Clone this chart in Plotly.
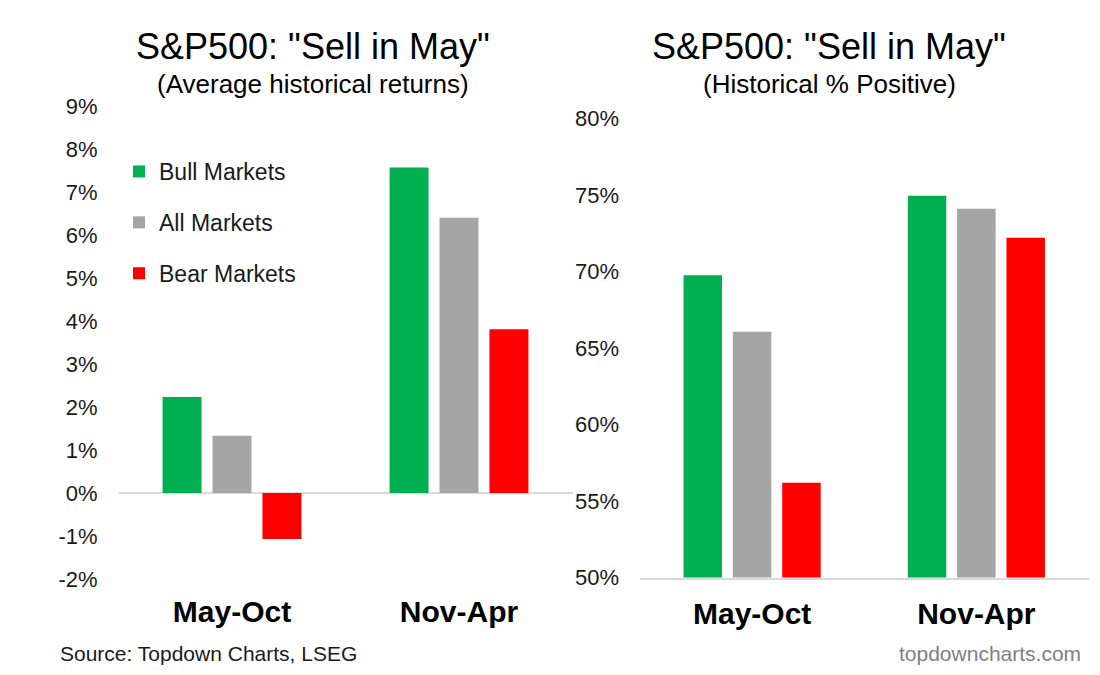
import plotly.graph_objects as go

# periods
categories = ["May-Oct", "Nov-Apr"]

# average historical returns (%)
avg_bull = [2.23, 7.57]
avg_all = [1.33, 6.40]
avg_bear = [-1.07, 3.81]

# historical % positive
pos_bull = [69.75, 74.95]
pos_all = [66.07, 74.1]
pos_bear = [56.2, 72.2]

# left axis tick labels (plain hyphen for negatives)
left_tickvals = [-2, -1, 0, 1, 2, 3, 4, 5, 6, 7, 8, 9]
left_ticktext = ["-2%", "-1%", "0%", "1%", "2%", "3%", "4%", "5%", "6%", "7%", "8%", "9%"]
right_tickvals = [50, 55, 60, 65, 70, 75, 80]
right_ticktext = ["50%", "55%", "60%", "65%", "70%", "75%", "80%"]

names = ["Bull Markets", "All Markets", "Bear Markets"]
colors = ["#00B050", "#A5A5A5", "#FF0000"]

FONT = "Arial, Liberation Sans, sans-serif"
W, H = 1100, 675


def px_x(p):
    return p / W


def px_y(p):
    return 1 - p / H


fig = go.Figure()

left_series = [avg_bull, avg_all, avg_bear]
right_series = [pos_bull, pos_all, pos_bear]

for i in range(3):
    fig.add_trace(go.Bar(
        x=categories, y=left_series[i], name=names[i],
        marker_color=colors[i], marker_line_width=0,
        xaxis="x", yaxis="y", legendgroup=names[i],
    ))
for i in range(3):
    fig.add_trace(go.Bar(
        x=categories, y=right_series[i], name=names[i],
        marker_color=colors[i], marker_line_width=0,
        xaxis="x2", yaxis="y2", legendgroup=names[i], showlegend=False,
    ))

tick_font = dict(family=FONT, size=22, color="#1a1a1a")
cat_font = dict(family=FONT, size=30, color="#000000", weight="bold")

fig.update_layout(
    width=W, height=H, autosize=False,
    margin=dict(l=0, r=0, t=0, b=0, pad=0),
    paper_bgcolor="white", plot_bgcolor="white",
    barmode="group", bargap=0.34, bargroupgap=0.22,
    font=dict(family=FONT),
    xaxis=dict(domain=[px_x(118.5), px_x(572.5)], anchor="y", type="category",
               showgrid=False, showline=False, tickfont=cat_font,
               ticklabelstandoff=12, automargin=False),
    yaxis=dict(domain=[px_y(579), px_y(106)], anchor="x", range=[-2, 9],
               tickvals=left_tickvals, ticktext=left_ticktext,
               showgrid=False, zeroline=True, zerolinecolor="#d9d9d9",
               zerolinewidth=2, showline=False, tickfont=tick_font,
               ticklabelstandoff=20, automargin=False),
    xaxis2=dict(domain=[px_x(640), px_x(1088.5)], anchor="y2", type="category",
                showgrid=False, showline=True, linecolor="#d9d9d9", linewidth=2,
                tickfont=cat_font, ticklabelstandoff=8, automargin=False),
    yaxis2=dict(domain=[px_y(577.5), px_y(118.5)], anchor="x2", range=[50, 80],
                tickvals=right_tickvals, ticktext=right_ticktext,
                showgrid=False, zeroline=False, showline=False,
                tickfont=tick_font, ticklabelstandoff=20, automargin=False),
    legend=dict(x=px_x(119), y=px_y(150), xanchor="left", yanchor="top",
                bgcolor="rgba(0,0,0,0)", traceorder="grouped",
                tracegroupgap=18,
                font=dict(family=FONT, size=23, color="#1a1a1a")),
    showlegend=True,
)

titles = [
    (313, 'S&P500: "Sell in May"', '(Average historical returns)'),
    (829, 'S&P500: "Sell in May"', '(Historical % Positive)'),
]
for cx, t, s in titles:
    fig.add_annotation(x=px_x(cx), y=px_y(47), xref="paper", yref="paper",
                       text=t, showarrow=False, xanchor="center", yanchor="middle",
                       font=dict(family=FONT, size=36, color="#000000"))
    fig.add_annotation(x=px_x(cx), y=px_y(84), xref="paper", yref="paper",
                       text=s, showarrow=False, xanchor="center", yanchor="middle",
                       font=dict(family=FONT, size=26, color="#000000"))

fig.add_annotation(x=px_x(58), y=px_y(653), xref="paper", yref="paper",
                   text="Source: Topdown Charts, LSEG", showarrow=False,
                   xanchor="left", yanchor="middle",
                   font=dict(family=FONT, size=21, color="#1a1a1a"))
fig.add_annotation(x=px_x(1083), y=px_y(653), xref="paper", yref="paper",
                   text="topdowncharts.com", showarrow=False,
                   xanchor="right", yanchor="middle",
                   font=dict(family=FONT, size=21, color="#7f7f7f"))

fig.write_html("out.html", config={"displayModeBar": False},
               post_script="document.body.style.margin='0';")
